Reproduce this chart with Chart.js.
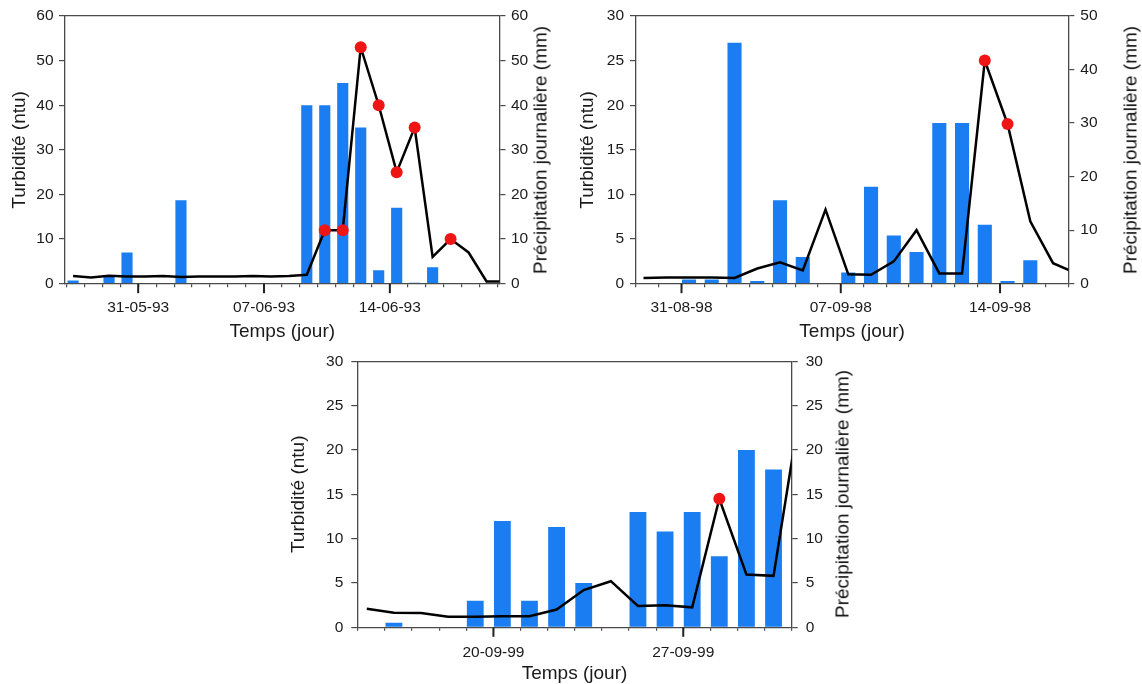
<!DOCTYPE html>
<html>
<head>
<meta charset="utf-8">
<script src="https://cdn.jsdelivr.net/npm/chart.js@4.4.1/dist/chart.umd.min.js"></script>
<style>
html,body{margin:0;padding:0;background:#fff;width:1142px;height:684px;overflow:hidden;position:relative;font-family:'Liberation Sans',Arial,sans-serif;}
canvas{position:absolute;}
.rt{position:absolute;white-space:nowrap;font-size:19px;color:#111;line-height:1;transform:translate(-50%,-50%) rotate(-90deg);font-family:'Liberation Sans',Arial,sans-serif;}
</style>
</head>
<body>
<canvas id="c1"></canvas>
<canvas id="c2"></canvas>
<canvas id="c3"></canvas>
<div class="rt" id="r1">Précipitation journalière (mm)</div>
<div class="rt" id="r2">Précipitation journalière (mm)</div>
<div class="rt" id="r3">Précipitation journalière (mm)</div>
<script>
// ---------- DATA ----------
// Chart 1 : day 0 = 31-05-93
const days1 = [-4,-3,-2,-1,0,1,2,3,4,5,6,7,8,9,10,11,12,13,14,15,16,17,18,19,20];
const turb1 = [1.7,1.4,1.8,1.6,1.6,1.7,1.5,1.6,1.6,1.6,1.75,1.6,1.7,2.0,12,12,53,40,25,35,6,10,7,0.5,0.5];
const rain1 = [0.7,0,1.9,7,0,0,18.7,0,0,0,0,0,0,40,40,45,35,3,17,0.2,3.7,0,0,0,0];
const dots1 = [10,11,12,13,14,15,17];
const majorDays1 = [0,7,14];
const majorLabels1 = ['31-05-93','07-06-93','14-06-93'];
const sampleTime1 = 0.38;

// Chart 2 : day 0 = 31-08-98
const days2 = [-2,-1,0,1,2,3,4,5,6,7,8,9,10,11,12,13,14,15,16,17];
const turb2 = [0.65,0.7,0.7,0.7,0.65,1.7,2.4,1.5,8.3,1.05,1.0,2.5,6.0,1.15,1.15,25,17.9,7.0,2.3,1.2];
const rain2 = [0,0,0.8,0.8,45,0.5,15.6,5.0,0,2.1,18.1,9.0,5.9,30,30,11,0.5,4.4,0,0];
const dots2 = [13,14];
const majorDays2 = [0,7,14];
const majorLabels2 = ['31-08-98','07-09-98','14-09-98'];
const sampleTime2 = 0.33;

// Chart 3 : day 0 = 20-09-99
const days3 = [-5,-4,-3,-2,-1,0,1,2,3,4,5,6,7,8,9,10,11];
const turb3 = [2.1,1.65,1.6,1.2,1.2,1.25,1.25,2.0,4.2,5.2,2.4,2.5,2.25,14.5,5.95,5.8,25];
const rain3 = [0,0.5,0,0,3.0,12.0,3.0,11.3,5.0,0,13.0,10.8,13.0,8.0,20.0,17.8,0];
const dots3 = [8];
const majorDays3 = [0,7];
const majorLabels3 = ['20-09-99','27-09-99'];
const sampleTime3 = 0.33;

const yTitle = 'Turbidité (ntu)';
const xTitle = 'Temps (jour)';

// ---------- STYLE ----------
const FONT = "'Liberation Sans', Arial, sans-serif";
const axisColor = '#4a4a4a';
const textColor = '#1a1a1a';
const barColor = '#1a7ef2';
const dotColor = '#f01515';
const tickFont = {family: FONT, size: 15.5};
const titleFont = {family: FONT, size: 19};

// long tick marks for the labelled dates, placed with the x scale
const majorTicks = {
  id: 'majorTicks',
  afterDraw(chart, args, opts) {
    const sc = chart.scales.x;
    const ctx = chart.ctx;
    ctx.save();
    ctx.strokeStyle = '#222';
    ctx.lineWidth = 2;
    opts.values.forEach(v => {
      const px = sc.getPixelForValue(v);
      ctx.beginPath();
      ctx.moveTo(px, sc.top);
      ctx.lineTo(px, sc.top + 9.5);
      ctx.stroke();
    });
    ctx.restore();
  }
};

function build(id, s) {
  const cv = document.getElementById(id);
  cv.width = s.box.w; cv.height = s.box.h;
  cv.style.left = s.box.x + 'px'; cv.style.top = s.box.y + 'px';
  const leftW = s.plot.l - s.box.x;
  const rightW = s.box.x + s.box.w - s.plot.r;
  const bottomH = s.xTitleY + titleFont.size * 1.2 / 2 - s.plot.b;
  const padTop = s.plot.t - s.box.y;
  const padBottom = s.box.y + s.box.h - s.plot.b - bottomH;
  const leftTitlePad = (s.yTitleX - s.box.x) - titleFont.size * 1.2 / 2;
  const xs = s.days.map(d => d + s.sampleTime);
  const dayTicks = [];
  for (let d = Math.ceil(s.xmin); d <= Math.floor(s.xmax); d++) dayTicks.push(d);

  new Chart(cv, {
    type: 'bar',
    data: {
      datasets: [
        {
          type: 'line', label: 'Turbidité',
          data: xs.map((x, i) => ({x: x, y: s.turb[i]})),
          xAxisID: 'x', yAxisID: 'y',
          borderColor: '#000', borderWidth: 2.5, tension: 0,
          pointRadius: s.days.map(d => s.dots.includes(d) ? 6 : 0),
          pointBackgroundColor: dotColor, pointBorderColor: dotColor, pointBorderWidth: 0,
          clip: 0,
          order: 0
        },
        {
          type: 'bar', label: 'Précipitation',
          data: xs.map((x, i) => ({x: x, y: s.rain[i]})),
          xAxisID: 'x', yAxisID: 'y1',
          backgroundColor: barColor, borderWidth: 0,
          barPercentage: 0.62, categoryPercentage: 1,
          clip: 0,
          order: 1
        }
      ]
    },
    options: {
      responsive: false, animation: false, devicePixelRatio: 1,
      layout: {padding: {top: padTop, bottom: padBottom, left: 0, right: 0}},
      plugins: {legend: {display: false}, tooltip: {enabled: false}, majorTicks: {values: s.majorDays}},
      scales: {
        x: {
          type: 'linear', position: 'bottom', min: s.xmin, max: s.xmax, offset: false,
          afterBuildTicks: sc => { sc.ticks = dayTicks.map(v => ({value: v})); },
          afterFit: sc => { sc.height = bottomH; },
          ticks: {
            autoSkip: false, maxRotation: 0, minRotation: 0, padding: s.xPad,
            font: tickFont, color: textColor,
            callback: v => { const k = s.majorDays.indexOf(v); return k >= 0 ? s.majorLabels[k] : ''; }
          },
          grid: {offset: false, drawOnChartArea: false, drawTicks: true, tickLength: 3.5, color: axisColor, lineWidth: 1.2},
          border: {display: true, color: axisColor, width: 1.3},
          title: {display: true, text: xTitle, font: titleFont, color: textColor, padding: 0}
        },
        xTop: {
          type: 'linear', position: 'top', min: s.xmin, max: s.xmax, offset: false,
          ticks: {display: false},
          grid: {display: false, drawTicks: false, offset: false},
          border: {display: true, color: axisColor, width: 1.3},
          afterFit: sc => { sc.height = 0; }
        },
        y: {
          position: 'left', min: 0, max: s.yMax,
          ticks: {stepSize: s.yStep, padding: s.yPad, font: tickFont, color: textColor},
          grid: {drawOnChartArea: false, tickLength: 6, color: axisColor, lineWidth: 1.2},
          border: {display: true, color: axisColor, width: 1.3},
          title: {display: true, text: yTitle, font: titleFont, color: textColor, padding: {top: leftTitlePad, bottom: 0}},
          afterFit: sc => { sc.width = leftW; }
        },
        y1: {
          position: 'right', min: 0, max: s.y1Max,
          ticks: {stepSize: s.y1Step, padding: s.yPad, font: tickFont, color: textColor},
          grid: {drawOnChartArea: false, tickLength: 6, color: axisColor, lineWidth: 1.2},
          border: {display: true, color: axisColor, width: 1.3},
          afterFit: sc => { sc.width = rightW; }
        }
      }
    },
    plugins: [majorTicks]
  });

  const rt = document.getElementById(s.rTitleId);
  rt.style.left = s.rTitle.x + 'px';
  rt.style.top = s.rTitle.y + 'px';
}

build('c1', {
  box: {x: 0, y: 0, w: 560, h: 345}, plot: {l: 65, t: 16, r: 499.5, b: 283.7},
  xTitleY: 331.7, yTitleX: 20, rTitleId: 'r1', rTitle: {x: 540, y: 150},
  days: days1, turb: turb1, rain: rain1, dots: dots1, sampleTime: sampleTime1,
  majorDays: majorDays1, majorLabels: majorLabels1,
  xmin: -4.07, xmax: 20.1, yMax: 60, yStep: 10, y1Max: 60, y1Step: 10, xPad: 11.5, yPad: 5.5
});
build('c2', {
  box: {x: 565, y: 0, w: 577, h: 345}, plot: {l: 636, t: 16, r: 1068.3, b: 283.7},
  xTitleY: 331.7, yTitleX: 588, rTitleId: 'r2', rTitle: {x: 1130, y: 150},
  days: days2, turb: turb2, rain: rain2, dots: dots2, sampleTime: sampleTime2,
  majorDays: majorDays2, majorLabels: majorLabels2,
  xmin: -2, xmax: 17, yMax: 30, yStep: 5, y1Max: 50, y1Step: 10, xPad: 11.5, yPad: 6
});
build('c3', {
  box: {x: 280, y: 344, w: 580, h: 342}, plot: {l: 357.3, t: 360, r: 791.7, b: 627.3},
  xTitleY: 674, yTitleX: 299, rTitleId: 'r3', rTitle: {x: 842, y: 493.7},
  days: days3, turb: turb3, rain: rain3, dots: dots3, sampleTime: sampleTime3,
  majorDays: majorDays3, majorLabels: majorLabels3,
  xmin: -5.02, xmax: 11.0, yMax: 30, yStep: 5, y1Max: 30, y1Step: 5, xPad: 12.5, yPad: 8
});
</script>
</body>
</html>
